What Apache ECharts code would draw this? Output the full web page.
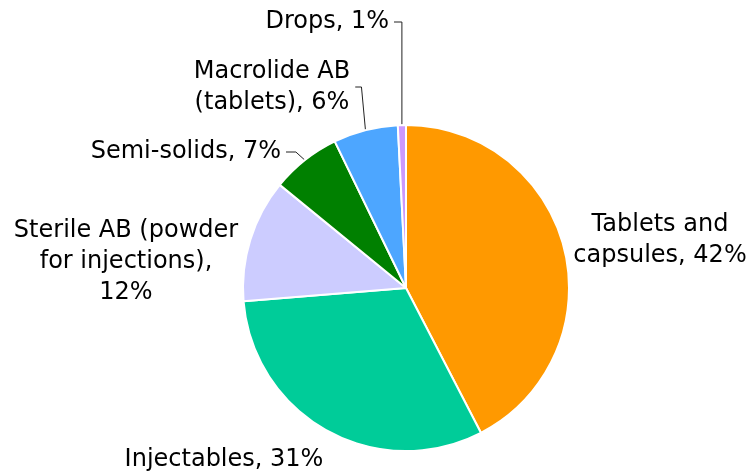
<!DOCTYPE html>
<html>
<head>
<meta charset="utf-8">
<script src="https://cdn.jsdelivr.net/npm/echarts@6/dist/echarts.min.js"></script>
<style>
html,body{margin:0;padding:0;background:#fff;}
#chart{width:756px;height:473px;}
</style>
</head>
<body>
<div id="chart"></div>
<script>
var categories = ['Tablets and\ncapsules', 'Injectables', 'Sterile AB (powder\nfor injections),\n', 'Semi-solids', 'Macrolide AB\n(tablets)', 'Drops'];
var values = [42.4, 31.3, 12.2, 6.9, 6.4, 0.8];
var shownPercents = ['42%', '31%', '12%', '7%', '6%', '1%'];
var colors = ['#FF9900', '#00CC99', '#CCCCFF', '#008000', '#4DA6FF', '#CC99FF'];
var showLeader = [false, false, false, true, true, true];
// label placement (layout only)
var labelPos = [
  {x: 660, y: 240, align: 'center'},
  {x: 224, y: 460, align: 'center'},
  {x: 126, y: 262, align: 'center'},
  {x: 281, y: 152, align: 'right'},
  {x: 272, y: 87, align: 'center'},
  {x: 389, y: 22, align: 'right'}
];
// leader bend: horizontal offset of the bend from the slice edge point
var leaderBend = [0, 0, 0, 9, 4, 0];

var chart = echarts.init(document.getElementById('chart'));
var data = categories.map(function (c, i) {
  var sep = c.charAt(c.length - 1) === '\n' ? '' : ', ';
  return {
    name: c,
    value: values[i],
    itemStyle: {color: colors[i]},
    label: {formatter: c + sep + shownPercents[i]},
    labelLine: {show: showLeader[i]}
  };
});
chart.setOption({
  animation: false,
  series: [{
    type: 'pie',
    center: [406, 288],
    radius: [0, 163],
    startAngle: 90,
    clockwise: true,
    data: data,
    itemStyle: {borderColor: '#fff', borderWidth: 2},
    label: {
      show: true,
      position: 'outside',
      fontFamily: '"DejaVu Sans", sans-serif',
      fontSize: 24,
      lineHeight: 31,
      color: '#000',
      align: 'center',
      overflow: 'none'
    },
    labelLine: {
      show: true,
      length: 10,
      length2: 10,
      smooth: false,
      lineStyle: {color: '#222', width: 1}
    },
    labelLayout: function (params) {
      var i = params.dataIndex;
      var p = labelPos[i];
      var out = {x: p.x, y: p.y, align: p.align, verticalAlign: 'middle', width: 400};
      if (showLeader[i] && params.labelLinePoints && params.labelLinePoints.length) {
        var edge = params.labelLinePoints[0];
        var w = params.labelRect.width;
        var textRight = p.align === 'right' ? p.x : p.x + w / 2;
        out.labelLinePoints = [
          [edge[0], edge[1]],
          [edge[0] - leaderBend[i], p.y],
          [textRight + 5, p.y]
        ];
      }
      return out;
    }
  }]
});
</script>
</body>
</html>
